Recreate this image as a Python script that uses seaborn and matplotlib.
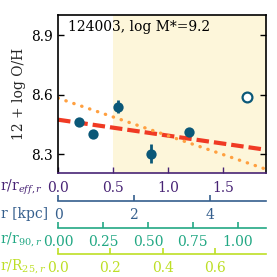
import matplotlib
matplotlib.use("Agg")
import matplotlib.pyplot as plt
import numpy as np
import pandas as pd
import seaborn as sns

# radial metallicity profile
r_eff = [0.194, 0.315, 0.548, 0.848, 1.188]
oh = [8.463, 8.400, 8.539, 8.303, 8.413]
oh_err = [0.010, 0.010, 0.032, 0.046, 0.012]
r_eff_open = [1.72]
oh_open = [8.591]

# linear fits: intercept, slope
fit_names = ["dashed", "dotted"]
fit_intercept = [8.474, 8.583]
fit_slope = [-0.0804, -0.190]

x_max = 1.89
y_lim = (8.205, 9.0)
shade_from = 0.5

# conversions from r/r_eff to the other radial units
kpc_per_reff = 2.905
r90_per_reff = 0.612
r25_per_reff = 0.420

title = "124003, log M*=9.2"

vir = {"eff": "#482475", "kpc": "#355f8d", "r90": "#22a884", "r25": "#bddf26"}
pt_color = "#0b5878"

sns.set_theme(style="ticks")
plt.rcParams["font.family"] = ["DejaVu Serif"]
plt.rcParams["mathtext.fontset"] = "dejavuserif"

fig = plt.figure(figsize=(2.77, 2.77), dpi=100)
ax = fig.add_axes([0.2094, 0.3755, 0.751, 0.5686])

ax.axvspan(shade_from, x_max, color="#fdf6da", lw=0, zorder=0)

xs = np.array([0, x_max])
ax.plot(xs, fit_intercept[0] + fit_slope[0] * xs, color="#f03a24", lw=3,
        dashes=(3, 1.2), zorder=2)
ax.plot(xs, fit_intercept[1] + fit_slope[1] * xs, color="#ffa040", lw=2.4,
        dashes=(0.1, 2.4), dash_capstyle="round", zorder=2)

ax.errorbar(r_eff, oh, yerr=oh_err, fmt="none", ecolor=pt_color, elinewidth=2,
            capsize=0, zorder=3)
df = pd.DataFrame({"r": r_eff, "oh": oh})
sns.scatterplot(data=df, x="r", y="oh", ax=ax, color=pt_color, s=55,
                edgecolor=pt_color, linewidth=0, zorder=4)
ax.scatter(r_eff_open, oh_open, s=50, facecolor="white", edgecolor=pt_color,
           linewidth=1.6, zorder=4)

ax.set_xlim(0, x_max)
ax.set_ylim(*y_lim)
ax.set_yticks([8.3, 8.6, 8.9])
ax.set_xticks([0, 0.5, 1.0, 1.5])
ax.set_xticklabels(["0.0", "0.5", "1.0", "1.5"])
ax.set_xlabel("")
ax.set_ylabel("12 + log O/H", fontsize=10, labelpad=4)
ax.tick_params(axis="y", direction="in", right=True, length=4, width=1,
               labelsize=10, colors="black")
ax.tick_params(axis="x", direction="in", length=4, width=1, labelsize=10,
               pad=6, colors=vir["eff"])
for s in ["left", "right", "top"]:
    ax.spines[s].set_color("black")
    ax.spines[s].set_linewidth(1.2)
ax.spines["bottom"].set_color(vir["eff"])
ax.spines["bottom"].set_linewidth(1.2)

ax.text(0.05, 0.93, title, transform=ax.transAxes, fontsize=10,
        ha="left", va="center", color="black")

ax.text(-0.072, -0.089, r"r/r$_{eff,r}$", transform=ax.transAxes,
        ha="right", va="center", fontsize=10, color=vir["eff"])


def add_axis(loc, factor, ticks, labels, color, name, name_x, name_y):
    sec = ax.secondary_xaxis(loc, functions=(lambda x: x * factor,
                                             lambda x: x / factor))
    sec.set_xticks(ticks)
    sec.set_xticklabels(labels)
    sec.tick_params(direction="in", length=4.5, width=1.2, labelsize=10,
                    pad=5, colors=color)
    sec.spines["bottom"].set_color(color)
    sec.spines["bottom"].set_linewidth(1.2)
    ax.text(name_x, name_y, name, transform=ax.transAxes, ha="right",
            va="center", fontsize=10, color=color)
    return sec


add_axis(-0.178, kpc_per_reff, [0, 2, 4], ["0", "2", "4"], vir["kpc"],
         "r [kpc]", -0.048, -0.258)
add_axis(-0.347, r90_per_reff, [0, 0.25, 0.5, 0.75, 1.0],
         ["0.00", "0.25", "0.50", "0.75", "1.00"], vir["r90"],
         r"r/r$_{90,r}$", -0.075, -0.425)
add_axis(-0.514, r25_per_reff, [0, 0.2, 0.4, 0.6],
         ["0.0", "0.2", "0.4", "0.6"], vir["r25"],
         r"r/R$_{25,r}$", -0.055, -0.597)

fig.savefig("out.png", dpi=100)
